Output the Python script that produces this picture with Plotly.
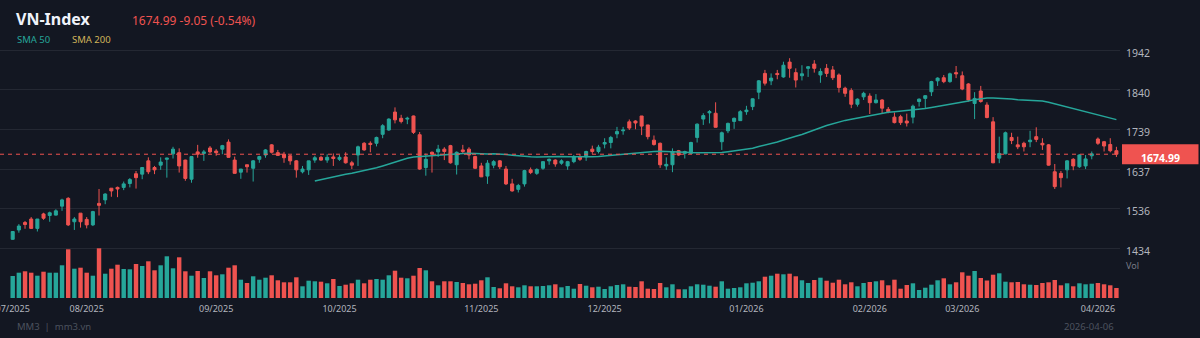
import numpy as np
import pandas as pd
import plotly.graph_objects as go

# ---------------- data ----------------
holidays = ["2025-09-01", "2025-09-02", "2026-01-01", "2026-01-02",
            "2026-02-16", "2026-02-17", "2026-02-18", "2026-02-19", "2026-02-20"]
dates = pd.bdate_range("2025-07-16", "2026-04-06", freq="C", holidays=holidays)

open_ = [1457, 1481, 1500, 1509, 1485, 1522, 1518, 1519, 1542, 1562,
         1502, 1524, 1508, 1494, 1549, 1558, 1588, 1590, 1590, 1600,
         1625, 1624, 1658, 1641, 1647, 1662, 1676, 1679, 1660, 1611,
         1681, 1677, 1691, 1683, 1688, 1706, 1660, 1629, 1648, 1639,
         1662, 1673, 1699, 1679, 1675, 1671, 1658, 1630, 1635, 1660,
         1667, 1660, 1668, 1662, 1668, 1653, 1673, 1703, 1703, 1703,
         1726, 1737, 1783, 1767, 1765, 1773, 1725, 1641, 1680, 1681,
         1688, 1697, 1648, 1686, 1688, 1669, 1645, 1619, 1647, 1658,
         1637, 1599, 1585, 1599, 1635, 1626, 1639, 1658, 1660, 1652,
         1645, 1656, 1668, 1668, 1688, 1682, 1701, 1705, 1727, 1735,
         1758, 1760, 1773, 1750, 1711, 1703, 1645, 1648, 1684, 1677,
         1677, 1718, 1765, 1781, 1780, 1707, 1735, 1759, 1761, 1784,
         1797, 1834, 1882, 1863, 1882, 1873, 1911, 1884, 1876, 1895,
         1906, 1878, 1895, 1891, 1878, 1844, 1838, 1803, 1822, 1824,
         1807, 1814, 1790, 1770, 1771, 1760, 1770, 1810, 1818, 1835,
         1863, 1871, 1861, 1884, 1876, 1855, 1805, 1837, 1801, 1758,
         1665, 1676, 1718, 1699, 1703, 1707, 1720, 1703, 1699, 1630,
         1626, 1635, 1662, 1643, 1645, 1671, 1714, 1707, 1700, 1684.04]
high = [1477, 1496, 1504, 1514, 1509, 1525, 1528, 1534, 1561, 1565,
        1514, 1524, 1514, 1530, 1586, 1575, 1588, 1592, 1605, 1614,
        1632, 1641, 1667, 1645, 1667, 1666, 1694, 1690, 1661, 1670,
        1699, 1686, 1696, 1688, 1699, 1713, 1669, 1637, 1648, 1660,
        1671, 1688, 1701, 1686, 1681, 1673, 1660, 1645, 1658, 1671,
        1671, 1675, 1677, 1673, 1680, 1658, 1697, 1706, 1708, 1720,
        1752, 1767, 1795, 1776, 1771, 1774, 1732, 1677, 1682, 1699,
        1693, 1699, 1682, 1699, 1693, 1671, 1653, 1660, 1660, 1660,
        1645, 1612, 1599, 1635, 1641, 1639, 1656, 1664, 1662, 1662,
        1658, 1673, 1676, 1684, 1697, 1699, 1716, 1722, 1745, 1745,
        1764, 1762, 1773, 1750, 1723, 1705, 1667, 1690, 1686, 1684,
        1707, 1754, 1780, 1788, 1808, 1733, 1756, 1769, 1788, 1799,
        1818, 1865, 1891, 1882, 1891, 1912, 1921, 1895, 1903, 1901,
        1916, 1895, 1906, 1901, 1882, 1848, 1844, 1818, 1835, 1831,
        1829, 1816, 1796, 1782, 1776, 1779, 1802, 1818, 1826, 1863,
        1872, 1878, 1884, 1901, 1887, 1857, 1834, 1850, 1808, 1770,
        1720, 1733, 1730, 1720, 1707, 1735, 1744, 1716, 1701, 1650,
        1632, 1660, 1665, 1675, 1673, 1682, 1718, 1709, 1716, 1694]
low = [1456, 1474, 1484, 1484, 1477, 1507, 1502, 1518, 1530, 1491,
       1481, 1487, 1485, 1491, 1518, 1547, 1566, 1565, 1583, 1590,
       1587, 1611, 1624, 1624, 1635, 1615, 1664, 1628, 1607, 1602,
       1666, 1658, 1677, 1671, 1675, 1666, 1626, 1612, 1628, 1605,
       1653, 1666, 1677, 1671, 1653, 1648, 1615, 1626, 1622, 1653,
       1658, 1653, 1645, 1658, 1651, 1637, 1645, 1684, 1680, 1695,
       1716, 1735, 1754, 1754, 1752, 1727, 1635, 1620, 1628, 1668,
       1660, 1651, 1623, 1676, 1662, 1637, 1617, 1599, 1639, 1637,
       1596, 1579, 1577, 1592, 1624, 1622, 1635, 1648, 1643, 1648,
       1635, 1652, 1658, 1658, 1676, 1677, 1690, 1690, 1716, 1725,
       1737, 1739, 1724, 1713, 1697, 1640, 1635, 1629, 1671, 1664,
       1676, 1705, 1750, 1754, 1744, 1686, 1729, 1740, 1761, 1776,
       1788, 1816, 1851, 1852, 1867, 1871, 1871, 1846, 1864, 1873,
       1884, 1858, 1873, 1865, 1833, 1822, 1793, 1797, 1814, 1778,
       1805, 1780, 1780, 1754, 1750, 1746, 1754, 1797, 1793, 1824,
       1850, 1857, 1858, 1870, 1839, 1810, 1765, 1807, 1767, 1652,
       1652, 1675, 1701, 1688, 1682, 1693, 1706, 1686, 1646, 1586,
       1590, 1613, 1634, 1640, 1637, 1662, 1699, 1682, 1680, 1668]
close = [1477, 1491, 1495, 1485, 1509, 1511, 1525, 1530, 1558, 1494,
         1509, 1502, 1494, 1528, 1544, 1573, 1581, 1586, 1599, 1610,
         1615, 1641, 1630, 1635, 1655, 1665, 1688, 1645, 1613, 1669,
         1675, 1681, 1681, 1679, 1697, 1667, 1626, 1637, 1643, 1658,
         1669, 1686, 1680, 1672, 1666, 1658, 1635, 1637, 1658, 1666,
         1660, 1667, 1664, 1667, 1653, 1647, 1694, 1686, 1700, 1718,
         1748, 1765, 1763, 1759, 1767, 1731, 1637, 1662, 1675, 1688,
         1682, 1653, 1680, 1682, 1673, 1639, 1617, 1652, 1656, 1643,
         1599, 1581, 1595, 1633, 1628, 1636, 1656, 1662, 1650, 1658,
         1656, 1668, 1662, 1682, 1682, 1693, 1705, 1718, 1733, 1737,
         1742, 1755, 1747, 1720, 1700, 1648, 1649, 1682, 1673, 1682,
         1705, 1752, 1774, 1784, 1744, 1730, 1754, 1767, 1784, 1788,
         1817, 1863, 1857, 1870, 1879, 1903, 1895, 1865, 1881, 1899,
         1895, 1887, 1882, 1871, 1846, 1831, 1803, 1816, 1831, 1807,
         1814, 1793, 1784, 1756, 1756, 1755, 1798, 1816, 1825, 1861,
         1870, 1861, 1881, 1881, 1842, 1814, 1818, 1810, 1769, 1653,
         1677, 1730, 1710, 1694, 1694, 1711, 1713, 1699, 1647, 1592,
         1615, 1658, 1645, 1673, 1663, 1676, 1703, 1696, 1684.04, 1674.99]
# volume, millions of shares
volume = [880, 1012, 1068, 1012, 892, 1052, 1012, 1012, 1308, 1948,
          1172, 1212, 1012, 892, 1988, 972, 1172, 1332, 1160, 1148,
          1360, 1280, 1468, 1108, 1308, 1668, 1188, 1628, 1068, 892,
          1080, 800, 1068, 908, 948, 1212, 1308, 732, 600, 868,
          732, 812, 908, 708, 628, 628, 828, 468, 692, 668,
          652, 588, 760, 480, 532, 588, 732, 588, 732, 760,
          732, 908, 1092, 812, 788, 892, 1200, 1108, 668, 508,
          668, 668, 640, 600, 548, 572, 708, 828, 440, 388,
          588, 468, 428, 508, 468, 468, 480, 508, 548, 428,
          480, 372, 560, 492, 428, 452, 360, 468, 520, 548,
          452, 440, 668, 372, 360, 600, 428, 548, 348, 348,
          468, 548, 532, 492, 452, 668, 372, 400, 428, 588,
          612, 668, 852, 892, 972, 948, 972, 868, 708, 600,
          720, 812, 692, 612, 732, 548, 628, 468, 600, 640,
          668, 708, 508, 732, 372, 520, 588, 320, 412, 532,
          708, 788, 548, 628, 1028, 892, 1080, 800, 700, 932,
          988, 652, 628, 640, 548, 532, 520, 600, 628, 720,
          508, 588, 468, 588, 548, 572, 600, 548, 508, 400]

price_ticks = [1434, 1536, 1637, 1739, 1840, 1942]
last_price = 1674.99
change = -9.05
change_pct = -0.54

# ---------------- style ----------------
BG = "#131722"
GRID = "#242833"
UP = "#26a69a"
DOWN = "#ef5350"
TXT = "#b2b5be"
FONT = "Noto Sans"

W, H = 1200, 338
L, R, T, B = 0, 80, 0, 40
PW, PH = W - L - R, H - T - B

x = np.arange(len(close))
vol_colors = [UP if c >= o else DOWN for o, c in zip(open_, close)]
sma50 = pd.Series(close).rolling(50).mean()

month_idx = [0] + [i for i in range(1, len(dates)) if dates[i].month != dates[i - 1].month]
month_lbl = [dates[i].strftime("%m/%Y") for i in month_idx]

# pixel geometry (plot area)
spacing = 6.166
x0_pix = 12.7
xr = [-x0_pix / spacing, (PW - x0_pix) / spacing]
ppu = 39.66 / 101.6            # pixels per index point
top_val = 1942 + 50 / ppu
bot_val = 1942 - (PH - 50) / ppu
shift = 3 / ppu

def pxx(p):
    return p / PW

def pxy(p):
    return (PH - p) / PH

fig = go.Figure()
fig.add_trace(go.Bar(x=x, y=volume, marker=dict(color=vol_colors, line=dict(width=0)),
                     width=0.72, yaxis="y2", hoverinfo="skip"))
fig.add_trace(go.Candlestick(
    x=x, open=open_, high=high, low=low, close=close,
    increasing=dict(line=dict(color=UP, width=1), fillcolor=UP),
    decreasing=dict(line=dict(color=DOWN, width=1), fillcolor=DOWN),
    whiskerwidth=0))
fig.add_trace(go.Scatter(x=x, y=sma50, mode="lines", line=dict(color=UP, width=1.5),
                         hoverinfo="skip"))
fig.add_trace(go.Scatter(x=[None], y=[None], yaxis="y3", hoverinfo="skip"))

fig.update_layout(
    width=W, height=H, margin=dict(l=L, r=R, t=T, b=B, autoexpand=False),
    paper_bgcolor=BG, plot_bgcolor=BG, showlegend=False,
    font=dict(family=FONT, color=TXT),
    xaxis=dict(range=xr, tickvals=month_idx, ticktext=month_lbl, showgrid=False,
               zeroline=False, showline=False, ticks="", rangeslider=dict(visible=False),
               tickfont=dict(size=9, color=TXT), ticklabelstandoff=4,
               ticklabeloverflow="allow", automargin=False),
    yaxis=dict(range=[bot_val, top_val], tickvals=price_ticks, showticklabels=False,
               gridcolor=GRID, gridwidth=1, zeroline=False, showline=False, side="right",
               automargin=False),
    yaxis2=dict(range=[0, 40 * PH], overlaying="y", showgrid=False, showticklabels=False,
                zeroline=False, showline=False, automargin=False),
    yaxis3=dict(range=[bot_val + shift, top_val + shift], overlaying="y", side="right",
                tickvals=price_ticks, ticktext=[str(v) for v in price_ticks],
                showgrid=False, zeroline=False, showline=False, ticks="",
                tickfont=dict(size=10.5, color=TXT), ticklabelstandoff=5, automargin=False),
)

# last price dashed line and label
fig.add_shape(type="line", xref="paper", yref="y", x0=0, x1=1, y0=last_price, y1=last_price,
              line=dict(color=DOWN, width=1, dash="4px,4px"))
fig.add_shape(type="rect", xref="paper", yref="paper",
              x0=pxx(1122), x1=pxx(1198.5), y0=pxy(164.3), y1=pxy(144.3),
              fillcolor=DOWN, line=dict(width=0), layer="above")
fig.add_annotation(xref="paper", yref="paper", x=pxx(1160), y=pxy(157.5),
                   text=f"<b>{last_price:.2f}</b>", showarrow=False,
                   font=dict(size=10.5, color="#ffffff", family=FONT),
                   xanchor="center", yanchor="middle")

# header
fig.add_annotation(xref="paper", yref="paper", x=pxx(14), y=pxy(19.5),
                   text="<b>VN-Index</b>", showarrow=False, xanchor="left", yanchor="middle",
                   font=dict(size=16, color="#f0f3fa", family=FONT))
fig.add_annotation(xref="paper", yref="paper", x=pxx(130), y=pxy(20.5),
                   text=f"{last_price:.2f} {change:.2f} ({change_pct:.2f}%)", showarrow=False,
                   xanchor="left", yanchor="middle", font=dict(size=12, color=DOWN, family=FONT))
fig.add_annotation(xref="paper", yref="paper", x=pxx(14.5), y=pxy(39.3),
                   text="SMA 50", showarrow=False, xanchor="left", yanchor="middle",
                   font=dict(size=9.5, color=UP, family=FONT))
fig.add_annotation(xref="paper", yref="paper", x=pxx(69.5), y=pxy(39.3),
                   text="SMA 200", showarrow=False, xanchor="left", yanchor="middle",
                   font=dict(size=9.5, color="#d1b45a", family=FONT))
fig.add_annotation(xref="paper", yref="paper", x=pxx(1124), y=pxy(265),
                   text="Vol", showarrow=False, xanchor="left", yanchor="middle",
                   font=dict(size=9, color="#787b86", family=FONT))
# footer
fig.add_annotation(xref="paper", yref="paper", x=pxx(14.5), y=pxy(326),
                   text="MM3  |  mm3.vn", showarrow=False, xanchor="left", yanchor="middle",
                   font=dict(size=9.5, color="#4c525e", family=FONT))
fig.add_annotation(xref="paper", yref="paper", x=pxx(1115.5), y=pxy(326),
                   text=dates[-1].strftime("%Y-%m-%d"), showarrow=False, xanchor="right",
                   yanchor="middle", font=dict(size=9.5, color="#4c525e", family=FONT))

fig.write_html("out.html")
